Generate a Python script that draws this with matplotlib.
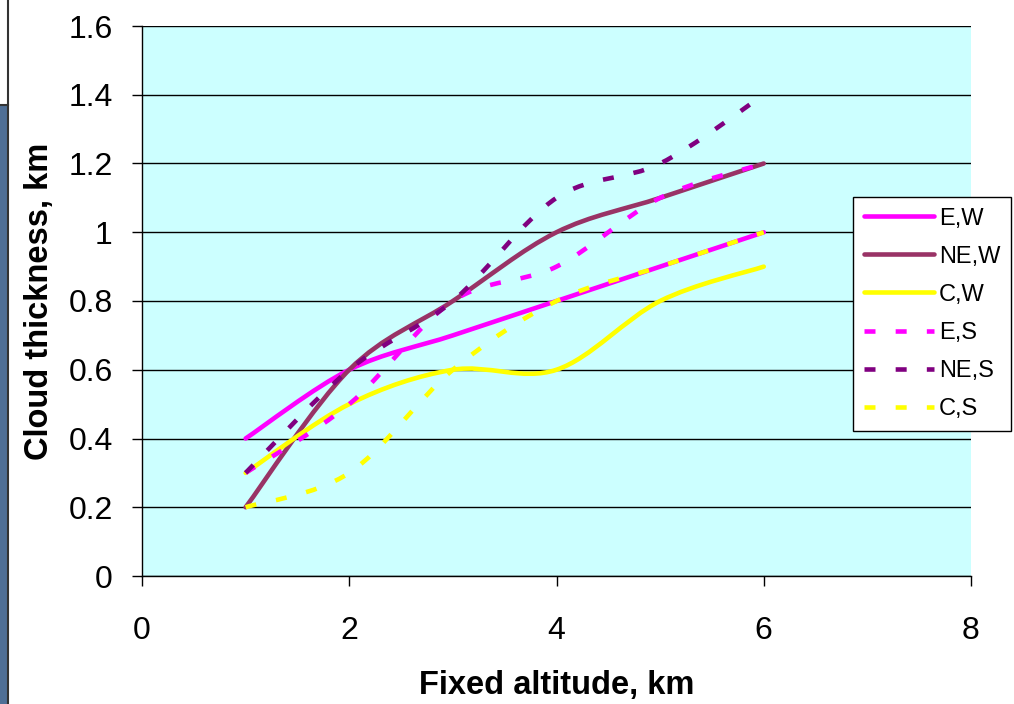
import numpy as np
import matplotlib
matplotlib.use("Agg")
import matplotlib.pyplot as plt
from matplotlib.path import Path
from matplotlib.patches import PathPatch, Rectangle
from matplotlib.lines import Line2D

plt.rcParams['font.family'] = ['Liberation Sans', 'DejaVu Sans']

# data
altitude = [1, 2, 3, 4, 5, 6]
e_w = [0.4, 0.6, 0.7, 0.8, 0.9, 1.0]
ne_w = [0.2, 0.6, 0.8, 1.0, 1.1, 1.2]
c_w = [0.3, 0.5, 0.6, 0.6, 0.8, 0.9]
e_s = [0.3, 0.5, 0.8, 0.9, 1.1, 1.2]
ne_s = [0.3, 0.6, 0.8, 1.1, 1.2, 1.4]
c_s = [0.2, 0.3, 0.6, 0.8, 0.9, 1.0]

labels = ['E,W', 'NE,W', 'C,W', 'E,S', 'NE,S', 'C,S']
series = [e_w, ne_w, c_w, e_s, ne_s, c_s]
colors = ['#FF00FF', '#993366', '#FFFF00', '#FF00FF', '#800080', '#FFFF00']
dashed = [False, False, False, True, True, True]


def smooth_path(x, y):
    # excel style smoothed line: cubic bezier through every point
    p = np.column_stack([x, y]).astype(float)
    ext = np.vstack([p[0], p, p[-1]])
    verts = [p[0]]
    codes = [Path.MOVETO]
    for i in range(len(p) - 1):
        p0, p1, p2, p3 = ext[i], ext[i + 1], ext[i + 2], ext[i + 3]
        c1 = p1 + (p2 - p0) / 6
        c2 = p2 - (p3 - p1) / 6
        verts += [c1, c2, p2]
        codes += [Path.CURVE4] * 3
    return Path(verts, codes)


fig = plt.figure(figsize=(10.14, 7.04), dpi=100)
ax = fig.add_axes([142 / 1014, 1 - 576 / 704, (971 - 142) / 1014, (576 - 26) / 704])
ax.set_facecolor('#CCFFFF')

lw = 3.3
handles = []
for ys, lab, col, d in zip(series, labels, colors, dashed):
    ls = (0, (2.4, 4.4)) if d else '-'
    patch = PathPatch(smooth_path(altitude, ys), fill=False, edgecolor=col,
                      lw=lw, linestyle=ls, capstyle='butt' if d else 'round',
                      zorder=4 if d else 3)
    ax.add_patch(patch)
    handles.append(Line2D([], [], color=col, lw=lw, linestyle=ls,
                          solid_capstyle='round', dash_capstyle='butt'))

ax.set_xlim(0, 8)
ax.set_ylim(0, 1.6)
ax.set_xticks([0, 2, 4, 6, 8])
ax.set_yticks(np.arange(0, 1.61, 0.2))
ax.set_yticklabels(['0', '0.2', '0.4', '0.6', '0.8', '1', '1.2', '1.4', '1.6'])
ax.yaxis.grid(True, color='black', lw=1.0)
ax.set_axisbelow(True)
for s in ['top', 'right']:
    ax.spines[s].set_visible(False)
ax.spines['left'].set_linewidth(1.0)
ax.spines['bottom'].set_linewidth(1.0)
ax.tick_params(axis='both', direction='out', length=7, width=1.0,
               labelsize=23)
ax.tick_params(axis='y', pad=14)
ax.tick_params(axis='x', pad=22)

ax.set_xlabel('Fixed altitude, km', fontsize=23.5, fontweight='bold', labelpad=17)
ax.set_ylabel('Cloud thickness, km', fontsize=23.5, fontweight='bold', labelpad=10)

leg = fig.legend(handles, labels, loc='upper left',
                 bbox_to_anchor=(853 / 1014, 1 - 197 / 704),
                 fontsize=17, frameon=True, fancybox=False, framealpha=1,
                 edgecolor='black', handlelength=3.0, handletextpad=0.2,
                 labelspacing=0.68, borderpad=0.45, borderaxespad=0)
leg.get_frame().set_linewidth(1.0)

# slide frame strip at left edge
fig.patches.append(Rectangle((0, 0), 8 / 1014, 1 - 105 / 704,
                             transform=fig.transFigure, facecolor='#4F6F96',
                             edgecolor='none'))
fig.lines.append(Line2D([8 / 1014, 8 / 1014], [0, 1], transform=fig.transFigure,
                        color='#333333', lw=1.5))
fig.lines.append(Line2D([0, 8 / 1014], [1 - 105 / 704, 1 - 105 / 704],
                        transform=fig.transFigure, color='#333333', lw=1.5))

fig.savefig('out.png', dpi=100)
